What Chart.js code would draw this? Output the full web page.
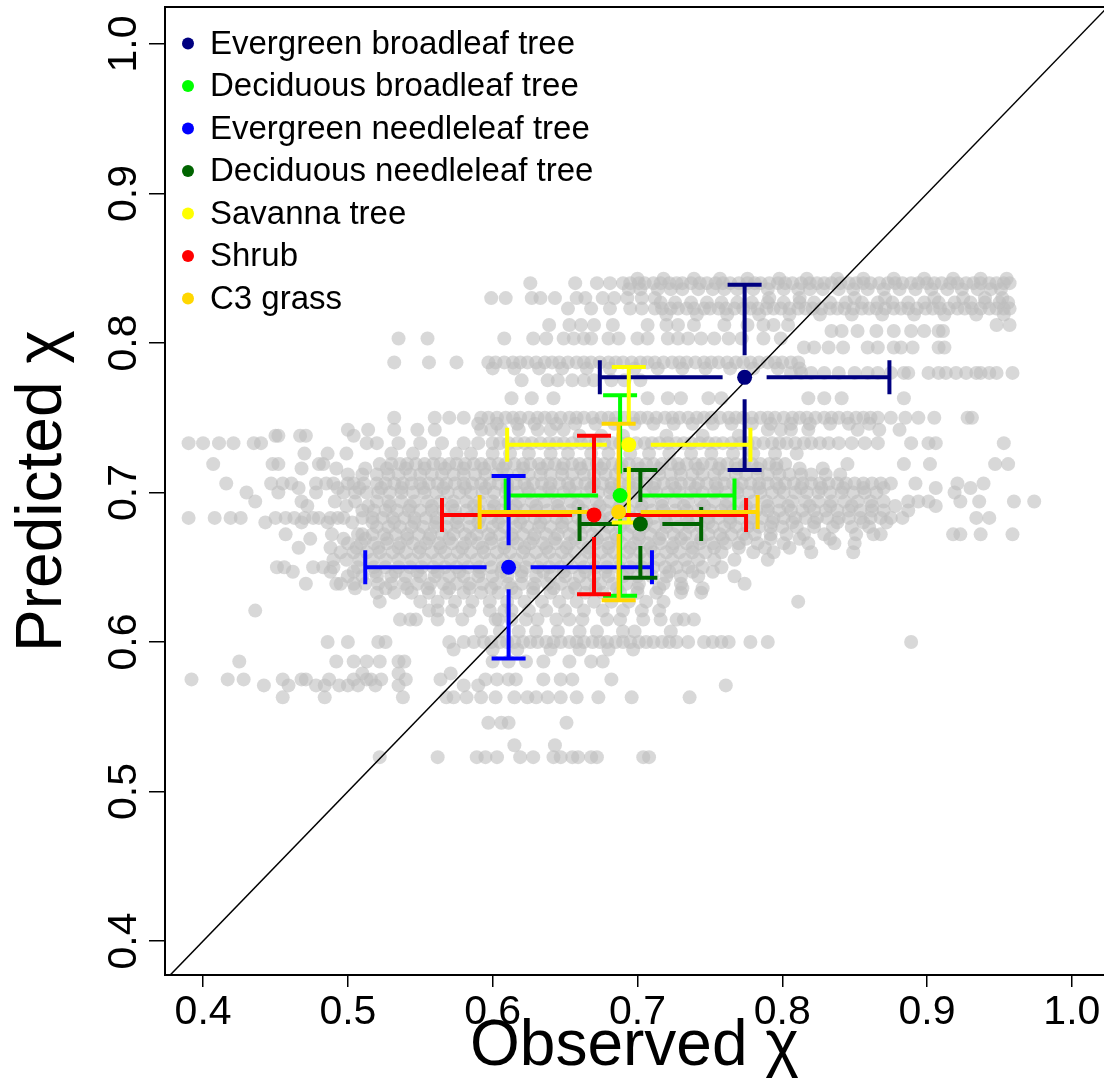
<!DOCTYPE html>
<html>
<head>
<meta charset="utf-8">
<script src="https://cdn.jsdelivr.net/npm/chart.js@4.4.1/dist/chart.umd.min.js"></script>
<style>
html,body{margin:0;padding:0;background:#fff}
#wrap{width:1104px;height:1088px}
</style>
</head>
<body>
<div id="wrap"><canvas id="chiChart" width="1104" height="1088"></canvas></div>
<script>
// plant functional types: mean observed / predicted chi and their sd
const pftNames = ["Evergreen broadleaf tree","Deciduous broadleaf tree","Evergreen needleleaf tree","Deciduous needleleaf tree","Savanna tree","Shrub","C3 grass"]
const pftObs = [0.774,0.688,0.611,0.702,0.694,0.670,0.687]
const pftPred = [0.777,0.698,0.650,0.679,0.732,0.685,0.687]
const pftObsSd = [0.100,0.079,0.099,0.042,0.084,0.105,0.096]
const pftPredSd = [0.062,0.067,0.061,0.036,0.052,0.053,0.059]
const pftColors = ["#000080","#00FF00","#0000FF","#006400","#FFFF00","#FF0000","#FFD700"]

const xTicks = [0.4,0.5,0.6,0.7,0.8,0.9,1.0]
const yTicks = [0.4,0.5,0.6,0.7,0.8,0.9,1.0]

// site points, grouped by predicted chi (rows), observed chi per row
const bandPred = [0.843,0.840,0.836,0.830,0.827,0.823,0.819,0.812,0.808,0.803,0.797,0.787,0.783,0.780,0.775,0.763,0.750,0.746,0.742,0.738,0.733,0.726,0.719,0.716,0.712,0.706,0.703,0.700,0.694,0.691,0.688,0.683,0.680,0.677,0.672,0.669,0.666,0.663,0.660,0.655,0.650,0.647,0.644,0.639,0.636,0.633,0.627,0.621,0.615,0.607,0.600,0.595,0.587,0.579,0.575,0.571,0.563,0.546,0.531,0.523]
const bandObs = [
[0.700,0.718,0.739,0.757,0.776,0.798,0.817,0.838,0.856,0.877,0.898,0.918,0.937,0.955],
[0.626,0.657,0.672,0.681,0.690,0.695,0.701,0.705,0.711,0.716,0.722,0.727,0.731,0.737,0.743,0.748,0.754,0.759,0.764,0.770,0.776,0.781,0.785,0.791,0.797,0.802,0.807,0.813,0.819,0.824,0.829,0.834,0.840,0.846,0.851,0.856,0.861,0.867,0.873,0.878,0.883,0.889,0.894,0.900,0.905,0.910,0.916,0.921,0.927,0.932,0.937,0.943,0.948,0.953,0.957],
[0.694,0.702,0.714,0.723,0.731,0.742,0.752,0.760,0.769,0.780,0.790,0.801,0.811,0.819,0.828,0.839,0.849,0.859,0.870,0.881,0.892,0.903,0.914,0.924,0.935,0.944,0.951],
[0.599,0.609,0.627,0.633,0.643,0.658,0.664,0.676,0.684,0.693,0.703,0.712,0.791,0.812,0.850,0.871,0.905,0.925,0.940,0.952],
[0.716,0.726,0.737,0.748,0.758,0.769,0.779,0.790,0.801,0.812,0.822,0.833,0.844,0.855,0.866,0.876,0.887,0.898,0.908,0.919,0.930,0.940,0.950,0.956],
[0.652,0.668,0.681,0.695,0.703,0.712,0.717,0.723,0.728,0.734,0.739,0.746,0.750,0.756,0.761,0.767,0.773,0.778,0.783,0.789,0.794,0.799,0.805,0.811,0.816,0.821,0.827,0.833,0.838,0.843,0.849,0.855,0.860,0.865,0.871,0.877,0.882,0.887,0.893,0.899,0.904,0.909,0.915,0.921,0.926,0.931,0.937,0.943,0.948,0.953,0.957],
[0.720,0.741,0.762,0.784,0.805,0.826,0.848,0.869,0.891,0.912,0.934,0.953],
[0.639,0.653,0.661,0.670,0.683,0.707,0.720,0.728,0.739,0.760,0.776,0.787,0.794,0.804,0.948,0.957],
[0.834,0.841,0.852,0.865,0.877,0.889,0.898,0.908,0.911],
[0.535,0.555,0.608,0.628,0.637,0.649,0.656,0.663,0.668,0.680,0.687,0.700,0.707,0.721,0.728,0.735,0.744,0.753,0.763,0.772,0.787,0.799],
[0.815,0.822,0.832,0.842,0.859,0.866,0.877,0.882,0.890,0.908,0.912],
[0.532,0.556,0.575,0.597,0.602,0.608,0.614,0.619,0.624,0.630,0.636,0.641,0.646,0.652,0.658,0.663,0.668,0.674,0.680,0.685,0.690,0.696,0.702,0.707,0.712,0.718,0.724,0.729,0.734,0.740,0.746,0.751,0.756,0.762,0.768,0.773,0.778,0.784,0.790,0.795,0.800,0.806,0.811],
[0.600,0.615,0.632,0.648,0.665,0.681,0.698,0.714,0.731,0.747,0.764,0.780,0.797,0.812],
[0.806,0.813,0.820,0.829,0.839,0.850,0.859,0.866,0.875,0.884,0.887,0.901,0.908,0.913,0.920,0.927,0.934,0.937,0.943,0.948,0.959],
[0.620,0.638,0.645,0.655,0.663,0.670,0.682,0.691,0.702],
[0.613,0.627,0.642,0.707,0.721,0.730,0.749,0.758,0.818,0.829,0.841,0.884],
[0.532,0.560,0.570,0.580,0.592,0.597,0.603,0.609,0.614,0.619,0.625,0.631,0.636,0.641,0.647,0.653,0.658,0.663,0.669,0.675,0.680,0.685,0.691,0.697,0.702,0.707,0.713,0.719,0.724,0.729,0.735,0.741,0.746,0.751,0.757,0.763,0.768,0.773,0.779,0.785,0.790,0.795,0.801,0.807,0.812,0.817,0.823,0.829,0.834,0.839,0.845,0.851,0.856,0.861,0.866,0.875,0.885,0.894,0.905,0.928,0.931],
[0.590,0.603,0.617,0.629,0.644,0.657,0.671,0.684,0.698,0.711,0.725,0.738,0.752,0.765,0.779,0.792,0.806,0.819,0.833,0.846,0.860],
[0.500,0.514,0.532,0.548,0.560,0.592,0.599,0.606,0.618,0.631,0.640,0.649,0.790,0.799,0.806,0.818,0.852,0.867,0.881],
[0.450,0.452,0.467,0.471,0.504,0.660,0.675,0.690,0.720,0.745,0.770],
[0.390,0.400,0.411,0.421,0.435,0.440,0.513,0.520,0.535,0.550,0.565,0.580,0.590,0.600,0.605,0.611,0.617,0.622,0.627,0.633,0.639,0.644,0.649,0.655,0.661,0.666,0.671,0.677,0.683,0.688,0.693,0.699,0.705,0.710,0.715,0.721,0.727,0.732,0.737,0.743,0.749,0.754,0.759,0.765,0.771,0.776,0.781,0.787,0.793,0.798,0.803,0.809,0.815,0.820,0.826,0.832,0.839,0.848,0.857,0.866,0.889,0.901,0.906,0.953],
[0.470,0.486,0.499,0.530,0.545,0.560,0.575,0.585,0.600,0.612,0.625,0.640,0.652,0.668,0.680,0.695,0.708,0.722,0.737,0.751,0.766,0.780,0.795,0.810],
[0.407,0.448,0.452,0.480,0.483,0.522,0.530,0.536,0.541,0.547,0.553,0.559,0.564,0.570,0.575,0.581,0.587,0.592,0.598,0.604,0.609,0.615,0.621,0.626,0.632,0.638,0.643,0.649,0.655,0.660,0.666,0.672,0.677,0.683,0.689,0.694,0.700,0.706,0.711,0.717,0.723,0.728,0.734,0.740,0.745,0.751,0.757,0.762,0.768,0.774,0.779,0.785,0.791,0.796,0.802,0.845,0.884,0.902,0.947,0.956],
[0.468,0.492,0.512,0.527,0.540,0.553,0.567,0.580,0.594,0.607,0.621,0.634,0.648,0.661,0.675,0.688,0.702,0.715,0.729,0.742,0.756,0.769,0.783,0.796,0.812,0.828],
[0.500,0.510,0.520,0.528,0.535,0.543,0.550,0.558,0.565,0.573,0.580,0.588,0.595,0.603,0.610,0.618,0.625,0.633,0.640,0.648,0.655,0.663,0.670,0.678,0.685,0.693,0.700,0.708,0.715,0.723,0.730,0.738,0.745,0.753,0.760,0.768,0.775,0.783,0.790,0.798,0.805,0.813,0.820,0.830,0.840],
[0.416,0.447,0.455,0.461,0.478,0.485,0.490,0.500,0.504,0.511,0.520,0.526,0.532,0.538,0.544,0.550,0.556,0.562,0.568,0.574,0.580,0.586,0.592,0.598,0.604,0.610,0.616,0.622,0.628,0.634,0.640,0.646,0.652,0.658,0.664,0.670,0.676,0.682,0.688,0.694,0.700,0.706,0.712,0.718,0.724,0.730,0.736,0.742,0.748,0.754,0.760,0.766,0.772,0.778,0.784,0.790,0.796,0.802,0.808,0.814,0.820,0.826,0.832,0.838,0.844,0.850,0.856,0.862,0.868,0.875,0.892,0.921,0.939],
[0.466,0.493,0.508,0.523,0.537,0.552,0.566,0.581,0.595,0.610,0.624,0.639,0.653,0.668,0.682,0.697,0.711,0.726,0.740,0.755,0.769,0.784,0.798,0.813,0.827,0.842,0.856,0.870,0.906,0.930],
[0.430,0.452,0.478,0.497,0.505,0.513,0.521,0.529,0.537,0.545,0.553,0.561,0.569,0.577,0.585,0.593,0.601,0.609,0.617,0.625,0.633,0.641,0.649,0.657,0.665,0.673,0.681,0.689,0.697,0.705,0.713,0.721,0.729,0.737,0.745,0.753,0.761,0.769,0.777,0.785,0.793,0.801,0.809,0.817,0.825,0.833,0.841,0.849,0.857,0.865,0.919],
[0.436,0.468,0.491,0.505,0.520,0.528,0.537,0.546,0.555,0.564,0.573,0.582,0.591,0.600,0.609,0.618,0.627,0.636,0.645,0.654,0.663,0.672,0.681,0.690,0.699,0.708,0.717,0.726,0.735,0.744,0.753,0.762,0.771,0.780,0.789,0.798,0.807,0.816,0.825,0.834,0.843,0.852,0.861,0.870,0.887,0.894,0.901,0.923,0.936,0.960,0.974],
[0.472,0.499,0.514,0.529,0.543,0.558,0.572,0.587,0.601,0.616,0.630,0.645,0.659,0.674,0.688,0.703,0.717,0.732,0.746,0.761,0.775,0.790,0.804,0.819,0.833,0.848,0.862,0.878,0.906],
[0.510,0.518,0.526,0.534,0.542,0.550,0.558,0.566,0.574,0.582,0.590,0.598,0.606,0.614,0.622,0.630,0.638,0.646,0.654,0.662,0.670,0.678,0.686,0.694,0.702,0.710,0.718,0.726,0.734,0.742,0.750,0.758,0.766,0.774,0.782,0.790,0.798,0.806,0.814,0.822,0.830,0.838,0.846,0.854,0.862,0.870,0.887],
[0.390,0.408,0.419,0.426,0.450,0.457,0.463,0.470,0.476,0.480,0.488,0.493,0.497,0.510,0.517,0.524,0.531,0.539,0.546,0.554,0.561,0.569,0.576,0.584,0.591,0.599,0.606,0.614,0.621,0.629,0.636,0.644,0.651,0.659,0.666,0.674,0.681,0.689,0.696,0.704,0.711,0.719,0.726,0.734,0.741,0.749,0.756,0.764,0.771,0.779,0.786,0.794,0.801,0.809,0.816,0.824,0.831,0.839,0.846,0.854,0.861,0.868,0.875,0.883,0.934,0.943],
[0.443,0.468,0.486,0.503,0.517,0.532,0.546,0.561,0.575,0.590,0.604,0.619,0.633,0.648,0.662,0.677,0.691,0.706,0.720,0.735,0.749,0.764,0.778,0.793,0.807,0.822,0.838,0.856,0.872],
[0.520,0.528,0.536,0.544,0.552,0.560,0.568,0.576,0.584,0.592,0.600,0.608,0.616,0.624,0.632,0.640,0.648,0.656,0.664,0.672,0.680,0.688,0.696,0.704,0.712,0.720,0.728,0.736,0.744,0.752,0.760,0.768,0.776,0.784,0.792,0.800,0.810,0.822,0.835,0.848,0.860],
[0.457,0.489,0.507,0.510,0.517,0.525,0.533,0.541,0.549,0.557,0.565,0.573,0.581,0.589,0.597,0.605,0.613,0.621,0.629,0.637,0.645,0.653,0.661,0.669,0.677,0.685,0.693,0.701,0.709,0.717,0.725,0.733,0.741,0.749,0.757,0.765,0.773,0.781,0.792,0.803,0.815,0.829,0.851,0.863,0.868,0.918,0.923,0.937,0.959],
[0.474,0.497,0.512,0.527,0.541,0.556,0.570,0.585,0.599,0.614,0.628,0.643,0.657,0.672,0.686,0.701,0.715,0.730,0.744,0.759,0.775,0.792,0.812,0.833],
[0.500,0.509,0.518,0.527,0.536,0.545,0.554,0.563,0.572,0.581,0.590,0.599,0.608,0.617,0.626,0.635,0.644,0.653,0.662,0.671,0.680,0.689,0.698,0.707,0.716,0.725,0.734,0.743,0.752,0.761,0.770,0.783,0.801,0.818,0.836,0.850],
[0.466,0.488,0.506,0.521,0.535,0.550,0.564,0.579,0.593,0.608,0.622,0.637,0.651,0.666,0.680,0.695,0.709,0.724,0.738,0.753,0.770,0.788,0.805],
[0.495,0.504,0.513,0.522,0.531,0.540,0.549,0.558,0.567,0.576,0.585,0.594,0.603,0.612,0.621,0.630,0.639,0.648,0.657,0.666,0.675,0.684,0.693,0.702,0.711,0.720,0.729,0.738,0.747,0.758,0.780,0.794,0.820,0.849],
[0.490,0.499,0.508,0.517,0.526,0.535,0.544,0.553,0.562,0.571,0.580,0.589,0.598,0.607,0.616,0.625,0.634,0.643,0.652,0.661,0.670,0.679,0.688,0.697,0.706,0.715,0.724,0.733,0.742,0.753,0.767,0.790],
[0.451,0.456,0.476,0.483,0.490,0.507,0.518,0.526,0.535,0.543,0.551,0.559,0.567,0.575,0.583,0.591,0.599,0.607,0.615,0.623,0.631,0.639,0.647,0.655,0.663,0.671,0.679,0.687,0.695,0.703,0.711,0.719,0.727,0.735,0.745,0.758],
[0.462,0.488,0.504,0.519,0.533,0.548,0.562,0.577,0.591,0.606,0.620,0.635,0.649,0.664,0.678,0.693,0.707,0.722,0.738,0.752],
[0.500,0.510,0.520,0.530,0.540,0.550,0.560,0.570,0.580,0.590,0.600,0.610,0.620,0.630,0.640,0.650,0.660,0.670,0.680,0.690,0.700,0.710,0.720,0.730,0.742,0.767],
[0.471,0.492,0.495,0.504,0.512,0.521,0.530,0.539,0.548,0.557,0.566,0.575,0.584,0.593,0.602,0.611,0.620,0.629,0.638,0.647,0.656,0.665,0.674,0.683,0.692,0.701,0.718,0.730,0.774],
[0.505,0.526,0.541,0.555,0.570,0.584,0.599,0.613,0.628,0.642,0.657,0.671,0.686,0.700,0.715,0.731,0.745],
[0.520,0.532,0.544,0.556,0.568,0.580,0.592,0.604,0.616,0.628,0.640,0.652,0.664,0.676,0.688,0.700,0.713,0.730,0.744],
[0.522,0.550,0.562,0.574,0.586,0.598,0.610,0.622,0.634,0.646,0.658,0.670,0.682,0.694,0.706,0.718,0.811],
[0.436,0.556,0.562,0.572,0.584,0.598,0.608,0.613,0.625,0.637,0.650,0.663,0.676,0.690,0.703,0.715],
[0.536,0.543,0.547,0.562,0.579,0.602,0.604,0.613,0.623,0.631,0.644,0.653,0.662,0.679,0.688,0.704,0.716,0.727,0.732,0.739],
[0.592,0.605,0.618,0.630,0.645,0.660,0.672,0.690,0.698,0.723],
[0.486,0.500,0.521,0.526,0.570,0.580,0.587,0.594,0.599,0.605,0.610,0.615,0.621,0.626,0.631,0.637,0.642,0.647,0.653,0.658,0.663,0.669,0.674,0.679,0.685,0.690,0.695,0.701,0.706,0.711,0.717,0.722,0.727,0.735,0.746,0.752,0.758,0.763,0.778,0.790,0.889],
[0.573,0.600,0.617,0.640,0.660,0.680,0.697],
[0.425,0.492,0.504,0.513,0.522,0.535,0.539,0.600,0.611,0.623,0.635,0.653,0.668,0.676],
[0.510,0.535,0.571],
[0.392,0.417,0.428,0.455,0.468,0.471,0.487,0.504,0.513,0.516,0.523,0.540,0.564,0.595,0.603,0.611,0.616,0.635,0.647,0.655,0.682],
[0.442,0.459,0.478,0.484,0.494,0.500,0.507,0.519,0.535,0.580,0.590,0.761],
[0.455,0.484,0.538,0.568,0.573,0.582,0.592,0.602,0.615,0.624,0.630,0.638,0.647,0.658,0.673,0.696,0.736],
[0.597,0.606,0.611,0.651],
[0.615,0.643],
[0.522,0.562,0.589,0.595,0.603,0.619,0.628,0.642,0.647,0.655,0.659,0.668,0.672,0.704,0.708]
]

const FONT = "'Liberation Sans', Arial, Helvetica, sans-serif"
const BAR_GAP = 22
const CAP_HALF = 17

const sitePoints = []
bandObs.forEach((row, i) => {
    row.forEach(x => sitePoints.push({ x: x, y: bandPred[i] }))
})

const pftPoints = pftObs.map((x, i) => ({ x: x, y: pftPred[i] }))

// error bars, drawn just before the pft means so the means sit on top
const errorBars = {
    id: "errorBars",
    beforeDatasetDraw(chart, args) {
        if (args.index !== 0) return
        const ctx = chart.ctx
        const xs = chart.scales.x
        const ys = chart.scales.y
        ctx.save()
        ctx.lineWidth = 4
        ctx.lineCap = "butt"
        pftNames.forEach((name, i) => {
            const cx = xs.getPixelForValue(pftObs[i])
            const cy = ys.getPixelForValue(pftPred[i])
            const xl = xs.getPixelForValue(pftObs[i] - pftObsSd[i])
            const xr = xs.getPixelForValue(pftObs[i] + pftObsSd[i])
            const yt = ys.getPixelForValue(pftPred[i] + pftPredSd[i])
            const yb = ys.getPixelForValue(pftPred[i] - pftPredSd[i])
            ctx.strokeStyle = pftColors[i]
            ctx.beginPath()
            ctx.moveTo(cx - BAR_GAP, cy); ctx.lineTo(xl, cy)
            ctx.moveTo(cx + BAR_GAP, cy); ctx.lineTo(xr, cy)
            ctx.moveTo(cx, cy - BAR_GAP); ctx.lineTo(cx, yt)
            ctx.moveTo(cx, cy + BAR_GAP); ctx.lineTo(cx, yb)
            ctx.moveTo(xl, cy - CAP_HALF); ctx.lineTo(xl, cy + CAP_HALF)
            ctx.moveTo(xr, cy - CAP_HALF); ctx.lineTo(xr, cy + CAP_HALF)
            ctx.moveTo(cx - CAP_HALF, yt); ctx.lineTo(cx + CAP_HALF, yt)
            ctx.moveTo(cx - CAP_HALF, yb); ctx.lineTo(cx + CAP_HALF, yb)
            ctx.stroke()
        })
        ctx.restore()
    }
}

// plot frame + legend in the top left corner
const frameLegend = {
    id: "frameLegend",
    afterDraw(chart) {
        const ctx = chart.ctx
        const a = chart.chartArea
        ctx.save()
        ctx.strokeStyle = "#000"
        ctx.lineWidth = 2
        ctx.strokeRect(a.left, a.top, a.right - a.left + 20, a.bottom - a.top)
        ctx.font = "33px " + FONT
        ctx.textBaseline = "middle"
        ctx.textAlign = "left"
        pftNames.forEach((name, i) => {
            const y = a.top + 36.5 + i * 42.5
            ctx.fillStyle = pftColors[i]
            ctx.beginPath()
            ctx.arc(a.left + 23, y, 6, 0, Math.PI * 2)
            ctx.fill()
            ctx.fillStyle = "#000"
            ctx.fillText(name, a.left + 45, y + 1)
        })
        ctx.restore()
    }
}

new Chart(
    document.getElementById("chiChart"),
    {
        type: "scatter",
        data: {
            datasets: [
                {
                    label: "PFT mean",
                    data: pftPoints,
                    pointRadius: 7.5,
                    pointHoverRadius: 7.5,
                    backgroundColor: pftColors,
                    borderWidth: 0
                },
                {
                    label: "1:1",
                    data: [{ x: 0.3, y: 0.3 }, { x: 1.1, y: 1.1 }],
                    showLine: true,
                    pointRadius: 0,
                    borderColor: "#000",
                    borderWidth: 1.5
                },
                {
                    label: "Sites",
                    data: sitePoints,
                    pointRadius: 7,
                    pointHoverRadius: 7,
                    backgroundColor: "rgba(190,190,190,0.6)",
                    borderWidth: 0
                }
            ]
        },
        options: {
            responsive: false,
            animation: false,
            devicePixelRatio: 1,
            layout: { autoPadding: false, padding: { top: 7, right: 0, bottom: 0, left: 0 } },
            plugins: {
                legend: { display: false },
                tooltip: { enabled: false }
            },
            scales: {
                x: {
                    type: "linear",
                    min: 0.3737,
                    max: 1.0222,
                    afterBuildTicks: s => { s.ticks = xTicks.map(v => ({ value: v })) },
                    afterFit: s => { s.height = 113; s.paddingLeft = 0; s.paddingRight = 0 },
                    border: { display: false },
                    grid: { drawOnChartArea: false, drawTicks: true, tickLength: 12, color: "#000", tickColor: "#000", lineWidth: 1.5 },
                    ticks: {
                        font: { size: 41, family: FONT },
                        color: "#000",
                        padding: 1,
                        maxRotation: 0,
                        autoSkip: false,
                        callback: v => v.toFixed(1)
                    },
                    title: {
                        display: true,
                        text: "Observed χ",
                        font: { size: 64, family: FONT },
                        color: "#000",
                        padding: { top: 0, bottom: 2 }
                    }
                },
                y: {
                    type: "linear",
                    min: 0.3773,
                    max: 1.0247,
                    afterBuildTicks: s => { s.ticks = yTicks.map(v => ({ value: v })) },
                    afterFit: s => { s.width = 165; s.paddingTop = 0; s.paddingBottom = 0 },
                    border: { display: false },
                    grid: { drawOnChartArea: false, drawTicks: true, tickLength: 16, color: "#000", tickColor: "#000", lineWidth: 1.5 },
                    ticks: {
                        font: { size: 41, family: FONT },
                        color: "#000",
                        padding: -4,
                        minRotation: 90,
                        maxRotation: 90,
                        crossAlign: "center",
                        autoSkip: false,
                        callback: v => v.toFixed(1)
                    },
                    title: {
                        display: true,
                        text: "Predicted χ",
                        font: { size: 64, family: FONT },
                        color: "#000",
                        padding: { top: 5, bottom: 0 }
                    }
                }
            }
        },
        plugins: [errorBars, frameLegend]
    }
)
</script>
</body>
</html>
